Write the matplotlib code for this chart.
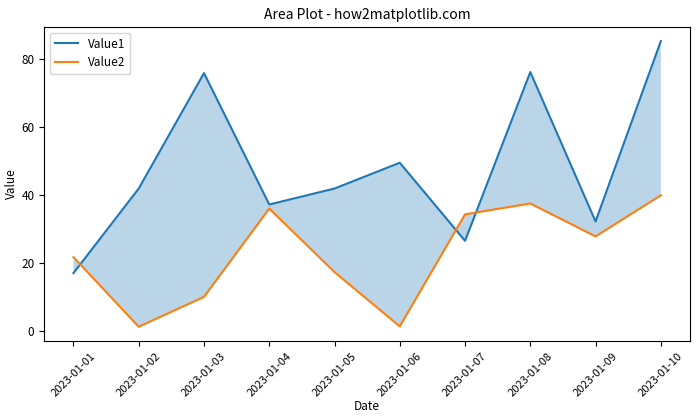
import matplotlib
matplotlib.use("Agg")
import matplotlib.pyplot as plt
import matplotlib.dates as mdates
import pandas as pd

plt.rcParams['font.family'] = ['Noto Sans CJK SC', 'DejaVu Sans']
plt.rcParams['font.size'] = 8.5

dates = ["2023-01-01", "2023-01-02", "2023-01-03", "2023-01-04", "2023-01-05",
         "2023-01-06", "2023-01-07", "2023-01-08", "2023-01-09", "2023-01-10"]
value1 = [17.0, 41.9, 75.9, 37.2, 41.9, 49.5, 26.5, 76.2, 32.2, 85.3]
value2 = [21.7, 1.2, 10.0, 36.0, 17.3, 1.3, 34.3, 37.5, 27.8, 39.9]

x = pd.to_datetime(dates)

fig, ax = plt.subplots(figsize=(7, 4.2), dpi=100)
ax.fill_between(x, value1, value2, alpha=0.3)
ax.plot(x, value1, label="Value1")
ax.plot(x, value2, label="Value2")
ax.set_title("Area Plot - how2matplotlib.com", fontsize=10)
ax.set_xlabel("Date", labelpad=1)
ax.set_ylabel("Value", labelpad=2)
ax.set_xticks(x)
ax.xaxis.set_major_formatter(mdates.DateFormatter("%Y-%m-%d"))
ax.tick_params(axis='x', labelsize=8)
plt.setp(ax.get_xticklabels(), rotation=45)
ax.legend(loc="upper left")
fig.subplots_adjust(left=0.063, right=0.986, top=0.936, bottom=0.188)
fig.savefig("out.png")
